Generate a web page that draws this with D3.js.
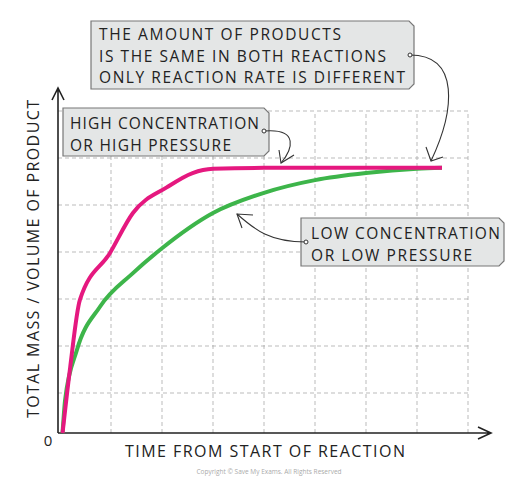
<!DOCTYPE html><html><head><meta charset="utf-8">
<script src="https://cdn.jsdelivr.net/npm/d3@7"></script>
<style>body{margin:0;background:#fff}text{font-family:"Open Sans",sans-serif;fill:#222}</style></head><body>
<script>
const highX=[0.05,0.2,0.39,0.98,1.43,2.1,2.6,3.0,4,5,6,7,7.49];
const highY=[0,1.55,2.98,3.98,4.83,5.38,5.68,5.77,5.79,5.79,5.79,5.79,5.79];
const lowX=[0.05,0.1,0.33,0.78,1.43,2,3,4,5,6,7,7.49];
const lowY=[0,0.85,1.91,2.83,3.55,4.08,4.83,5.26,5.53,5.68,5.77,5.79];
const gridX=[1,2,3,4,5,6,7,8], gridY=[1,2,3,4,5,6,7];
const W=523,H=482;
const svg=d3.select("body").append("svg").attr("width",W).attr("height",H);
const x=d3.scaleLinear().domain([0,8]).range([60,468]);
const y=d3.scaleLinear().domain([0,7]).range([440,111]);
const g=svg.append("g");
g.selectAll(".gx").data(gridX).join("line").attr("x1",d=>x(d)).attr("x2",d=>x(d)).attr("y1",433).attr("y2",111)
 .attr("stroke","#aaa").attr("stroke-dasharray","4,3").attr("stroke-width",0.8);
g.selectAll(".gy").data(gridY).join("line").attr("y1",d=>y(d)).attr("y2",d=>y(d)).attr("x1",58).attr("x2",468)
 .attr("stroke","#aaa").attr("stroke-dasharray","4,3").attr("stroke-width",0.8);
// axes
svg.append("path").attr("d","M58,433V90M52,100L58,88L64,100").attr("stroke","#222").attr("fill","none").attr("stroke-width",1.6);
svg.append("path").attr("d","M58,433H490M478,427L491,433L478,439").attr("stroke","#222").attr("fill","none").attr("stroke-width",1.6);
const line=d3.line().x(d=>x(d[0])).y(d=>Math.min(433,y(d[1]))).curve(d3.curveMonotoneX);
svg.append("path").attr("d",line(lowX.map((v,i)=>[v,lowY[i]]))).attr("stroke","#3db54a").attr("stroke-width",4).attr("fill","none");
svg.append("path").attr("d",line(highX.map((v,i)=>[v,highY[i]]))).attr("stroke","#e5187f").attr("stroke-width",4).attr("fill","none");
// boxes
function box(x0,y0,x1,y1,lines,tx,by,tl){
 const c=5;
 svg.append("path").attr("d",`M${x0},${y0}H${x1-c}L${x1},${y0+c}V${y1-c}L${x1-c},${y1}H${x0}Z`)
  .attr("fill","#e4e6e6").attr("stroke","#777").attr("stroke-width",1.2);
 lines.forEach((t,i)=>svg.append("text").attr("x",tx).attr("y",by+i*21.5).attr("font-size",15.5)
  .attr("textLength",tl[i]).attr("lengthAdjust","spacing").text(t));
}
box(91,21,414,89,["THE AMOUNT OF PRODUCTS","IS THE SAME IN BOTH REACTIONS","ONLY REACTION RATE IS DIFFERENT"],99,40,[242,287,306]);
box(63,108,269,156,["HIGH CONCENTRATION","OR HIGH PRESSURE"],70,129,[189,161]);
box(301,218,504,266,["LOW CONCENTRATION","OR LOW PRESSURE"],311,239,[189,161]);
// callouts
function call(d,ax,ay,a1,a2){
 svg.append("path").attr("d",d).attr("stroke","#333").attr("fill","none").attr("stroke-width",1.1);
 svg.append("path").attr("d",`M${a1[0]},${a1[1]}L${ax},${ay}L${a2[0]},${a2[1]}`).attr("stroke","#333").attr("fill","none").attr("stroke-width",1.1);
}
call("M410,55C460,55,455,110,431,161",431,161,[426,147],[443,157]);
svg.append("circle").attr("cx",410).attr("cy",55).attr("r",2).attr("fill","#fff").attr("stroke","#333");
call("M264,131C300,128,292,150,281,163",281,163,[279,150],[294,155]);
svg.append("circle").attr("cx",264).attr("cy",131).attr("r",2).attr("fill","#fff").attr("stroke","#333");
call("M306,242C270,242,255,230,237,214",237,214,[242,228],[253,215]);
svg.append("circle").attr("cx",306).attr("cy",242).attr("r",2).attr("fill","#fff").attr("stroke","#333");
// labels
svg.append("text").attr("transform","translate(39,259) rotate(-90)").attr("text-anchor","middle").attr("font-size",16)
 .attr("textLength",318).attr("lengthAdjust","spacing").text("TOTAL MASS / VOLUME OF PRODUCT");
svg.append("text").attr("x",265).attr("y",457).attr("text-anchor","middle").attr("font-size",16)
 .attr("textLength",280).attr("lengthAdjust","spacing").text("TIME FROM START OF REACTION");
svg.append("text").attr("x",48).attr("y",446).attr("text-anchor","middle").attr("font-size",15).text("0");
svg.append("text").attr("x",269).attr("y",474).attr("text-anchor","middle").attr("font-size",6.5).style("fill","#aaa").text("Copyright © Save My Exams. All Rights Reserved");
</script></body></html>
